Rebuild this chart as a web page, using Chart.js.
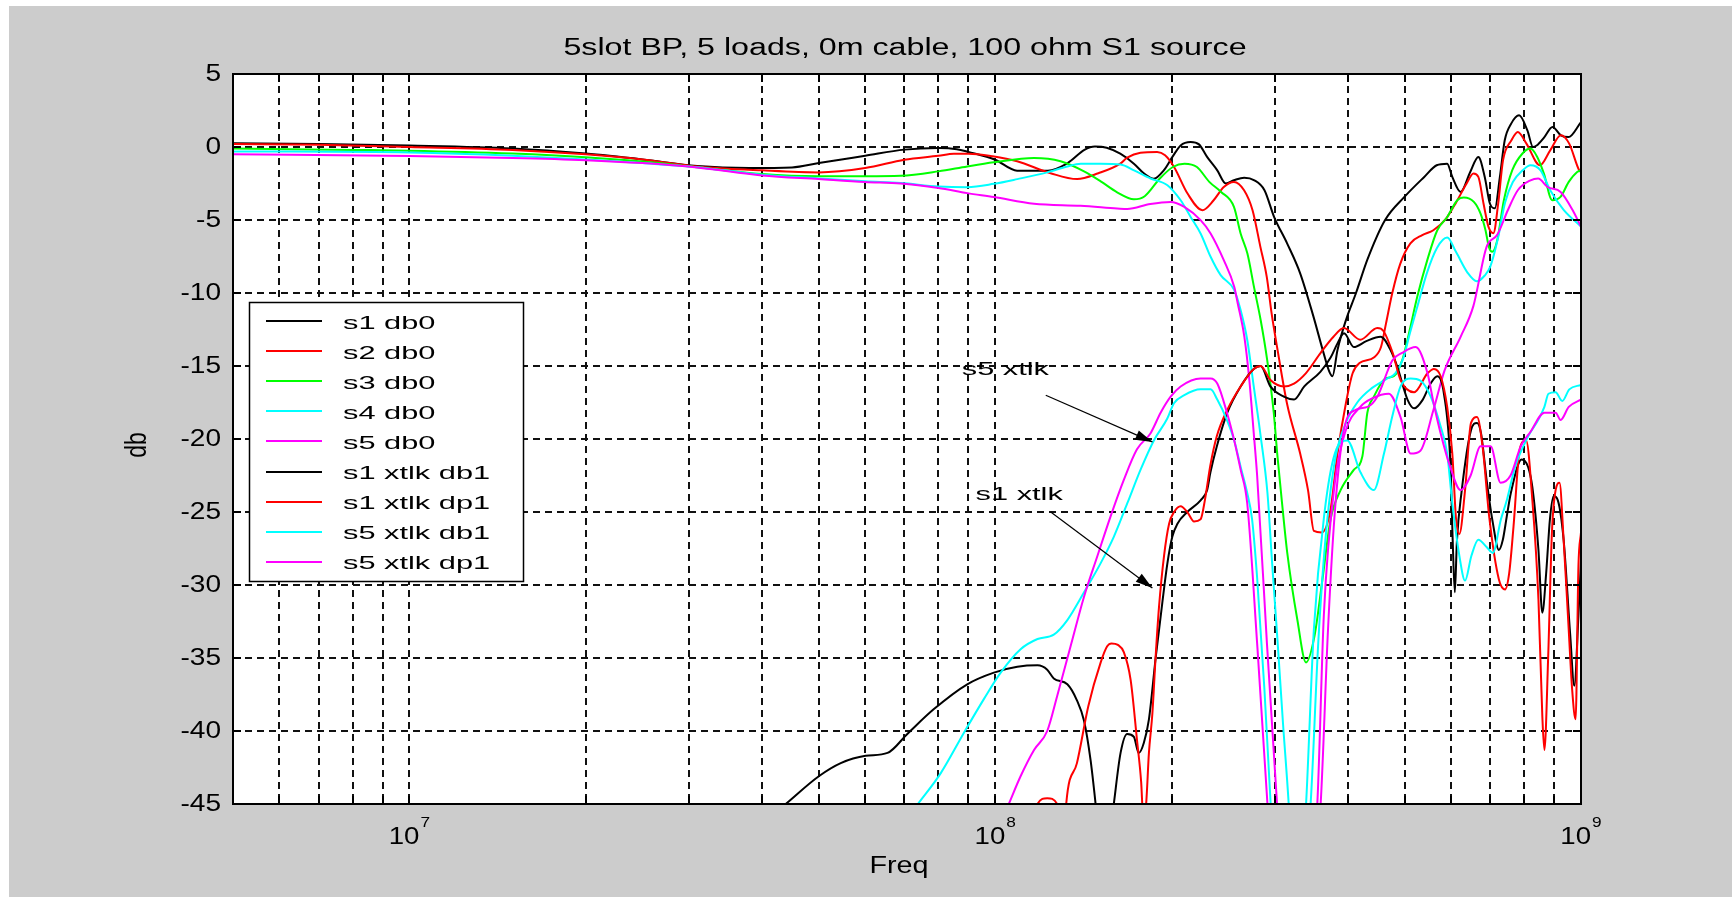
<!DOCTYPE html>
<html>
<head>
<meta charset="utf-8">
<title>5slot BP, 5 loads, 0m cable, 100 ohm S1 source</title>
<script src="https://cdn.jsdelivr.net/npm/chart.js@4.4.1/dist/chart.umd.min.js"></script>
<style>
  html, body { margin: 0; padding: 0; background: #cccccc; }
  #wrap { width: 1732px; height: 897px; }
</style>
</head>
<body>
<div id="wrap"><canvas id="myChart" width="1732" height="897"></canvas></div>
<script>
// all series are [frequency in MHz, level in dB]
const s1Db0 = [[5,0.25],[7,0.2],[10,0.1],[15,-0.1],[20,-0.45],[25,-0.85],[31,-1.3],[38,-1.44],[45,-1.4],[50,-1.1],[60,-0.6],[70,-0.18],[80,-0.07],[86,-0.15],[90,-0.34],[100,-0.87],[109,-1.62],[123,-1.62],[133,-1.1],[142,-0.2],[148,0.03],[155,-0.05],[163.5,-0.46],[172.5,-1.14],[179.6,-1.82],[186.6,-2.17],[194,-1.6],[200.7,-0.68],[207.3,0.11],[215.6,0.34],[222.8,0.18],[230,-0.68],[239.4,-1.6],[247.6,-2.5],[255.6,-2.28],[266.1,-2.1],[277,-2.28],[288.2,-2.96],[299.4,-4.8],[315,-6.6],[331.6,-8.65],[349.3,-11.6],[363.5,-14.1],[372,-15.4],[376.5,-15.7],[384,-13.9],[397,-11.85],[413,-10],[432,-7.7],[463,-5.0],[500,-3.4],[540,-2.05],[567,-1.25],[591,-1.14],[603,-2.05],[623,-3.08],[647,-1.71],[668,-0.68],[685,-2.05],[699,-3.87],[713,-4.2],[727,-2.05],[741,0.46],[760,1.6],[784,2.17],[810,1.14],[828,0],[840,0.1],[866,0.68],[894,1.37],[924,0.8],[952,0.68],[1000,1.71]];
const s2Db0 = [[5,0.2],[7,0.15],[10,0.0],[15,-0.2],[20,-0.5],[25,-0.85],[31,-1.33],[40,-1.6],[50,-1.74],[60,-1.44],[70,-0.87],[80,-0.6],[85,-0.46],[90,-0.46],[99,-0.64],[109,-0.98],[124,-1.78],[138,-2.2],[150,-1.8],[163.5,-1.14],[168,-0.73],[177,-0.39],[189,-0.34],[195,-0.57],[202,-1.37],[213,-3.19],[225.8,-4.33],[236,-3.65],[245.6,-2.74],[255.6,-2.39],[266,-2.96],[275,-4.33],[283.6,-6.84],[290.8,-8.9],[296.4,-11.4],[304,-14.1],[315,-17.6],[331.6,-21],[342,-23.5],[350,-26.3],[361,-26.4],[373.6,-24.85],[384,-21],[396.9,-17.55],[407.5,-15.5],[418.6,-14.8],[443.6,-14.4],[455.6,-13.7],[464.6,-12.1],[476.3,-10],[491.4,-8],[511.4,-6.6],[535.8,-6.04],[559.7,-5.7],[588.6,-4.9],[612.8,-3.76],[637.9,-2.5],[655.3,-1.82],[668,-2.05],[681.7,-3.87],[695.2,-5.47],[708.7,-5.9],[722.2,-3.87],[736,-0.91],[760.8,0.46],[780,1.03],[807,0.23],[851,-1.25],[886,-0.23],[924,0.8],[954.7,0.23],[993,-1.6],[1000,-1.71]];
const s3Db0 = [[5,-0.1],[8,-0.2],[10,-0.25],[15,-0.45],[20,-0.7],[25,-1.0],[31,-1.38],[40,-1.85],[50,-2.0],[60,-2.0],[69,-1.97],[80,-1.67],[89.6,-1.33],[99.5,-1.05],[116.5,-0.76],[129.3,-0.98],[141.8,-1.67],[151.4,-2.35],[161.5,-3.1],[172.5,-3.58],[180,-3.37],[191,-2.16],[201,-1.37],[210.5,-1.14],[221,-1.37],[232,-2.39],[243,-3.08],[255.6,-4.1],[262.4,-5.92],[269.5,-7.3],[276.6,-9.6],[283.9,-11.85],[291.3,-14.6],[298.9,-18.2],[303,-21],[309,-24.5],[315.2,-27.8],[328,-32.4],[339.3,-35.3],[350.8,-33.5],[362,-29.6],[373.7,-25.5],[388.7,-23.5],[409.7,-22.1],[423.4,-21.2],[431.8,-18.2],[443,-17.1],[463.9,-15.85],[479.2,-15.7],[495.3,-14.6],[508.3,-12.8],[525.4,-10.26],[546.5,-7.75],[568.4,-5.7],[591.2,-4.79],[614.9,-3.65],[631,-3.46],[656.3,-3.76],[673.8,-4.56],[687.1,-5.7],[696.2,-6.84],[705.5,-7.18],[719.5,-6.38],[738.5,-3.65],[763.3,-1.59],[793.8,-0.46],[820,-0.11],[842,-0.68],[864.3,-1.82],[893,-3.65],[922.6,-3.42],[953,-2.39],[985,-1.71],[1000,-1.59]];
const s4Db0 = [[5,-0.3],[10,-0.38],[15,-0.6],[20,-0.85],[25,-1.1],[31,-1.38],[40,-1.9],[50,-2.15],[60,-2.35],[69,-2.47],[80,-2.7],[89.6,-2.75],[99.5,-2.52],[109.1,-2.2],[122.7,-1.74],[132.8,-1.33],[140,-1.15],[151.4,-1.14],[163.7,-1.2],[172.6,-1.6],[184.2,-2.16],[196.8,-2.62],[207.3,-3.65],[215.6,-4.79],[224.2,-5.92],[233.2,-7.52],[242.6,-8.78],[255.9,-9.8],[262.4,-11.17],[269.3,-13.2],[276.3,-16.4],[283.9,-19.8],[291.6,-23.7],[297,-28.5],[303,-33.5],[310,-39.5],[317,-45],[322,-50],[336,-50],[345.5,-45],[356,-34],[366,-27],[380,-21.5],[396,-19],[415,-17.5],[440,-16.5],[465,-15.9],[482,-15.5],[497,-14.5],[510,-12.8],[525,-11],[546,-8.6],[568,-6.9],[591,-6.2],[612,-7.2],[640,-8.6],[664,-9.2],[685,-8.8],[700,-8.2],[722,-6.2],[742,-3.8],[765,-2.4],[795,-1.6],[820,-1.25],[853,-1.6],[887,-3.0],[934,-4.3],[1000,-5.45]];
const s5Db0 = [[5,-0.5],[10,-0.62],[15,-0.75],[20,-0.9],[25,-1.1],[31,-1.4],[40,-1.95],[50,-2.2],[60,-2.4],[69,-2.5],[80,-2.81],[89.6,-3.16],[99.5,-3.43],[116.5,-3.89],[139.9,-4.03],[161.5,-4.21],[168,-4.25],[184,-3.9],[199.3,-3.76],[210.3,-4.1],[224.2,-5.01],[233.2,-5.92],[245.6,-7.75],[255.9,-9.58],[259.4,-10.7],[266.3,-13],[271.6,-16],[276.3,-19.6],[280,-22.5],[291,-34],[302.8,-45],[310,-52],[340,-52],[354.7,-45],[364,-32],[380,-23],[396,-19.5],[420,-17.8],[441,-17.2],[470,-16.9],[492,-18.5],[512,-21],[532,-20.8],[560,-18],[585,-15.3],[623,-13],[655,-10.9],[690,-6.84],[720,-6.0],[750,-4.33],[780,-2.96],[820,-2.28],[845,-2.16],[877,-2.74],[923,-3.08],[968,-4.33],[1000,-5.47]];
const s1XtlkDb1 = [[43.9,-45],[50,-43.1],[54.5,-42.2],[60.1,-41.7],[65.5,-41.5],[70.8,-40.2],[78.6,-38.5],[89.6,-36.8],[99.5,-36],[109.1,-35.6],[118.1,-35.5],[122.7,-35.8],[125.9,-36.4],[132.8,-36.8],[137.9,-37.9],[141.8,-39.3],[145.5,-42],[148.4,-45],[151,-48],[156,-48],[159.4,-45],[163.7,-41.5],[168,-40.2],[172.5,-40.4],[175.8,-41.5],[179.4,-40.8],[183,-39.2],[187.9,-35],[192.9,-31.2],[196.8,-28.5],[200.6,-26.7],[204.7,-25.8],[212.8,-25],[224.2,-24.2],[230,-23.5],[233,-22.3],[239,-20.5],[249,-18.2],[262.4,-16.4],[276.3,-15.2],[283.9,-15],[295,-16.4],[311,-17.1],[323.7,-17.3],[337,-16.4],[359,-15.4],[374,-14.4],[384,-13.45],[394,-12.76],[409.5,-13.7],[430,-13.3],[454.9,-13],[473,-13.9],[485.8,-15.05],[505.6,-17.3],[519,-17.9],[537,-17.3],[553.7,-16.2],[568.4,-15.7],[583.5,-16.9],[599,-22],[604,-27],[609,-30.5],[614,-27],[625,-23.7],[649,-19.4],[664.6,-18.9],[675,-19.6],[691,-23],[707.5,-25.8],[724,-27.6],[735.5,-26.9],[747,-25.3],[759,-23.7],[792,-21.4],[812,-21.9],[826,-23.3],[846,-27.6],[859,-31.9],[872,-29.2],[885,-25.5],[898,-23.9],[913,-24.2],[934,-26.9],[958,-33.3],[974,-36.9],[990,-32.1],[1000,-28.3]];
const s1XtlkDp1 = [[114,-48],[118.1,-45],[122.7,-44.6],[127.6,-45],[130,-48],[131,-48],[132.2,-45],[137.9,-42.2],[144.2,-38.3],[151.4,-35.3],[155.3,-34.2],[158,-34],[162,-34.1],[165.8,-34.6],[170.3,-36.5],[174.6,-40.6],[177.5,-43.5],[179,-46],[181,-45],[183,-41.5],[185.5,-38.8],[187.9,-34.9],[190.4,-31.5],[194.2,-28],[198.1,-25.8],[202,-25],[207.3,-24.6],[212.8,-25],[218.5,-25.65],[224.2,-25.5],[228,-24.2],[233,-21.8],[239,-19.8],[249,-18],[262.4,-16.4],[276.3,-15.2],[283.9,-15],[295,-15.96],[311,-16.4],[323.7,-16.2],[339,-15.5],[359.4,-14.1],[378,-13],[393.7,-12.4],[420,-13.2],[449,-12.4],[460,-12.6],[477,-14.1],[492,-15.96],[519,-16.8],[547,-15.5],[561,-15.2],[576,-15.7],[591,-17.8],[603,-21],[612,-25.5],[620,-26.5],[634,-23.5],[649,-18.9],[664.6,-18.5],[680,-20.7],[697,-25.3],[724,-29.6],[742,-30.3],[754,-29.2],[767,-26],[786,-20.7],[806,-20.1],[826,-24.2],[846,-31],[859,-39],[866,-41.3],[879,-34.9],[892,-26.4],[905,-23.5],[919,-23],[934,-26.9],[950,-32.1],[966,-37.2],[979,-39.2],[990,-28.7],[1000,-26.4]];
const s5XtlkDb1 = [[73.8,-45],[80.7,-42.9],[88.5,-40.1],[95.7,-37.8],[102.2,-36],[110.5,-34.4],[118.1,-33.7],[125.9,-33.4],[132.8,-32.4],[141.8,-30.5],[151.4,-28.5],[159.4,-26.7],[168.1,-24.4],[177.1,-22.1],[186.6,-20.1],[196.7,-18.6],[201.9,-17.55],[210.3,-17.0],[224.2,-16.6],[233.2,-16.6],[239.4,-17.3],[248.7,-18.7],[255.9,-20.1],[262.4,-21.9],[269.3,-23.7],[274.5,-25.5],[280,-29.5],[288,-37],[295.3,-45],[301,-52],[330,-52],[339.4,-45],[350,-33],[365,-25],[380,-21],[399,-20.1],[420.5,-22.3],[443,-23.5],[461,-21],[476,-18.5],[492,-16.4],[512,-15.85],[532,-16],[554,-17.1],[576,-19.15],[591,-21],[603,-24.4],[620,-28],[634,-29.7],[650,-28],[668,-26.9],[690,-27.4],[707,-27.8],[730,-25.5],[747,-24.2],[772,-21.9],[813,-19.8],[845,-18.7],[866,-17.8],[880,-16.9],[905,-16.8],[929,-17.4],[955,-16.6],[1000,-16.3]];
const s5XtlkDp1 = [[105.5,-45],[110.5,-43.1],[116.5,-41.3],[122.7,-40],[127.6,-37.6],[134.5,-34.2],[141.8,-30.8],[149.5,-28],[157.4,-25.3],[165.8,-22.8],[174.6,-20.7],[184.2,-19.6],[191.6,-18.2],[199.3,-17.1],[207.3,-16.4],[224.2,-15.85],[233.2,-15.85],[239.4,-16.2],[248.7,-18.2],[255.9,-20.1],[262.4,-22.1],[269.3,-24.4],[280,-34],[291.6,-45],[298,-52],[345,-52],[359.4,-45],[370,-33],[380,-25],[393.7,-19.4],[412.5,-18],[432,-17.8],[449,-17.1],[476.6,-14.6],[495,-14.1],[522,-13.7],[547,-15.5],[560,-17.5],[575,-19.5],[599,-22],[623,-23.5],[648,-22.5],[674,-20.5],[701,-20.5],[729,-23],[758,-22.5],[789,-20.5],[820,-19.5],[866,-18.2],[905,-18.2],[923,-18.7],[953,-17.8],[1000,-17.3]];

const seriesNames = ['s1 db0', 's2 db0', 's3 db0', 's4 db0', 's5 db0', 's1 xtlk db1', 's1 xtlk dp1', 's5 xtlk db1', 's5 xtlk dp1'];
const seriesData = [s1Db0, s2Db0, s3Db0, s4Db0, s5Db0, s1XtlkDb1, s1XtlkDp1, s5XtlkDb1, s5XtlkDp1];
const seriesColors = ['#000000', '#ff0000', '#00ff00', '#00ffff', '#ff00ff', '#000000', '#ff0000', '#00ffff', '#ff00ff'];

// grid at every 1..9 x decade, labels at the decades only (MHz)
const xGridMHz = [5, 6, 7, 8, 9, 10, 20, 30, 40, 50, 60, 70, 80, 90, 100, 200, 300, 400, 500, 600, 700, 800, 900, 1000];
const xLabelMHz = [10, 100, 1000];
const xLabelExp = ['7', '8', '9'];
const yTicks = [5, 0, -5, -10, -15, -20, -25, -30, -35, -40, -45];

// text labels with arrows, positions in [MHz, dB]
const notes = [
  { text: 's5 xtlk', at: [87.7, -15.6], from: [122, -17.0], to: [185.5, -20.2] },
  { text: 's1 xtlk', at: [92.6, -24.2], from: [124.4, -25.0], to: [185.5, -30.2] },
];

const FONT = '"Liberation Sans", Arial, Helvetica, sans-serif';

function wideText(ctx, text, x, y, size, sx, align, base) {
  ctx.save();
  ctx.font = size + 'px ' + FONT;
  ctx.textAlign = align;
  ctx.textBaseline = base;
  ctx.translate(x, y);
  ctx.scale(sx, 1);
  ctx.fillText(text, 0, 0);
  ctx.restore();
}

function textWidth(ctx, text, size, sx) {
  ctx.save();
  ctx.font = size + 'px ' + FONT;
  const w = ctx.measureText(text).width * sx;
  ctx.restore();
  return w;
}

function drawArrow(ctx, x1, y1, x2, y2) {
  const ang = Math.atan2(y2 - y1, x2 - x1);
  const hl = 17, hw = 5;
  ctx.beginPath();
  ctx.moveTo(x1, y1);
  ctx.lineTo(x2, y2);
  ctx.stroke();
  const bx = x2 - hl * Math.cos(ang), by = y2 - hl * Math.sin(ang);
  ctx.beginPath();
  ctx.moveTo(x2, y2);
  ctx.lineTo(bx + hw * Math.sin(ang), by - hw * Math.cos(ang));
  ctx.lineTo(bx - hw * Math.sin(ang), by + hw * Math.cos(ang));
  ctx.closePath();
  ctx.fill();
}

const matlabLook = {
  id: 'matlabLook',
  beforeDraw(chart) {
    const { ctx, chartArea: a, width, height } = chart;
    ctx.save();
    ctx.fillStyle = '#cccccc';
    ctx.fillRect(0, 0, width, height);
    ctx.fillStyle = '#ffffff';
    ctx.fillRect(0, 0, width, 6);
    ctx.fillRect(0, 0, 9, height);
    ctx.fillRect(a.left, a.top, a.right - a.left, a.bottom - a.top);
    ctx.restore();
  },
  afterDraw(chart) {
    const { ctx, chartArea: a } = chart;
    const xs = chart.scales.x, ys = chart.scales.y;
    ctx.save();
    ctx.fillStyle = '#000';
    ctx.strokeStyle = '#000';

    // inward tick marks
    ctx.lineWidth = 2;
    ctx.beginPath();
    xGridMHz.forEach(v => {
      const px = Math.round(xs.getPixelForValue(v * 1e6));
      ctx.moveTo(px, a.bottom); ctx.lineTo(px, a.bottom - 8);
      ctx.moveTo(px, a.top); ctx.lineTo(px, a.top + 8);
    });
    yTicks.forEach(v => {
      const py = Math.round(ys.getPixelForValue(v));
      ctx.moveTo(a.left, py); ctx.lineTo(a.left + 8, py);
      ctx.moveTo(a.right, py); ctx.lineTo(a.right - 8, py);
    });
    ctx.stroke();

    // axes box
    ctx.lineWidth = 2;
    ctx.strokeRect(a.left, a.top, a.right - a.left, a.bottom - a.top);

    // y tick labels
    yTicks.forEach(v => {
      wideText(ctx, String(v), a.left - 12, ys.getPixelForValue(v) + 1, 23, 1.22, 'right', 'middle');
    });

    // x tick labels as 10^n
    xLabelMHz.forEach((v, i) => {
      const px = xs.getPixelForValue(v * 1e6);
      const w1 = textWidth(ctx, '10', 23, 1.2);
      const w2 = textWidth(ctx, xLabelExp[i], 15, 1.15);
      const x0 = px - (w1 + w2 + 1) / 2;
      wideText(ctx, '10', x0, a.bottom + 40, 23, 1.2, 'left', 'alphabetic');
      wideText(ctx, xLabelExp[i], x0 + w1 + 1, a.bottom + 23, 15, 1.15, 'left', 'alphabetic');
    });

    // axis titles and chart title
    const cx = (a.left + a.right) / 2;
    wideText(ctx, 'Freq', cx - 8, a.bottom + 69, 23, 1.25, 'center', 'alphabetic');
    ctx.save();
    ctx.translate(138, (a.top + a.bottom) / 2 + 6);
    ctx.rotate(-Math.PI / 2);
    ctx.scale(1, 1.25);
    ctx.font = '23px ' + FONT;
    ctx.textAlign = 'center';
    ctx.textBaseline = 'middle';
    ctx.fillText('db', 0, 0);
    ctx.restore();
    wideText(ctx, '5slot BP, 5 loads, 0m cable, 100 ohm S1 source', cx - 2, 55, 23, 1.4, 'center', 'alphabetic');

    // annotations
    ctx.lineWidth = 1.2;
    notes.forEach(n => {
      wideText(ctx, n.text, xs.getPixelForValue(n.at[0] * 1e6), ys.getPixelForValue(n.at[1]), 19, 1.62, 'left', 'alphabetic');
      drawArrow(ctx,
        xs.getPixelForValue(n.from[0] * 1e6), ys.getPixelForValue(n.from[1]),
        xs.getPixelForValue(n.to[0] * 1e6), ys.getPixelForValue(n.to[1]));
    });

    // legend box
    const lx = 249.5, ly = 302.5, lw = 274, lh = 279;
    ctx.fillStyle = '#ffffff';
    ctx.fillRect(lx, ly, lw, lh);
    ctx.lineWidth = 1.5;
    ctx.strokeStyle = '#000';
    ctx.strokeRect(lx, ly, lw, lh);
    chart.data.datasets.forEach((ds, i) => {
      const rowY = 321 + i * 30.1;
      ctx.strokeStyle = ds.borderColor;
      ctx.lineWidth = 2;
      ctx.beginPath();
      ctx.moveTo(266, Math.round(rowY));
      ctx.lineTo(322, Math.round(rowY));
      ctx.stroke();
      ctx.fillStyle = '#000';
      wideText(ctx, ds.label, 343, rowY + 7.5, 19, 1.62, 'left', 'alphabetic');
    });
    ctx.restore();
  }
};

const datasets = seriesData.map((pts, i) => ({
  label: seriesNames[i],
  data: pts.map(p => ({ x: p[0] * 1e6, y: p[1] })),
  borderColor: seriesColors[i],
  backgroundColor: seriesColors[i],
  borderWidth: 2,
  pointRadius: 0,
  fill: false,
  cubicInterpolationMode: 'monotone',
  clip: 0,
  order: seriesData.length - i,
}));

const gridStyle = { color: '#111111', lineWidth: 2, drawTicks: false };

new Chart(document.getElementById('myChart'), {
  type: 'line',
  data: { datasets },
  options: {
    responsive: false,
    animation: false,
    events: [],
    layout: { padding: { left: 233, right: 151, top: 74, bottom: 93 }, autoPadding: false },
    plugins: {
      legend: { display: false },
      title: { display: false },
      tooltip: { enabled: false },
    },
    scales: {
      x: {
        type: 'logarithmic',
        min: 5e6,
        max: 1e9,
        afterBuildTicks: (axis) => {
          axis.ticks = xGridMHz.map(v => ({ value: v * 1e6 }));
        },
        ticks: { display: false },
        grid: gridStyle,
        border: { display: false, dash: [7, 5] },
      },
      y: {
        type: 'linear',
        min: -45,
        max: 5,
        ticks: { display: false, stepSize: 5 },
        grid: gridStyle,
        border: { display: false, dash: [7, 5] },
      },
    },
  },
  plugins: [matlabLook],
});
</script>
</body>
</html>
